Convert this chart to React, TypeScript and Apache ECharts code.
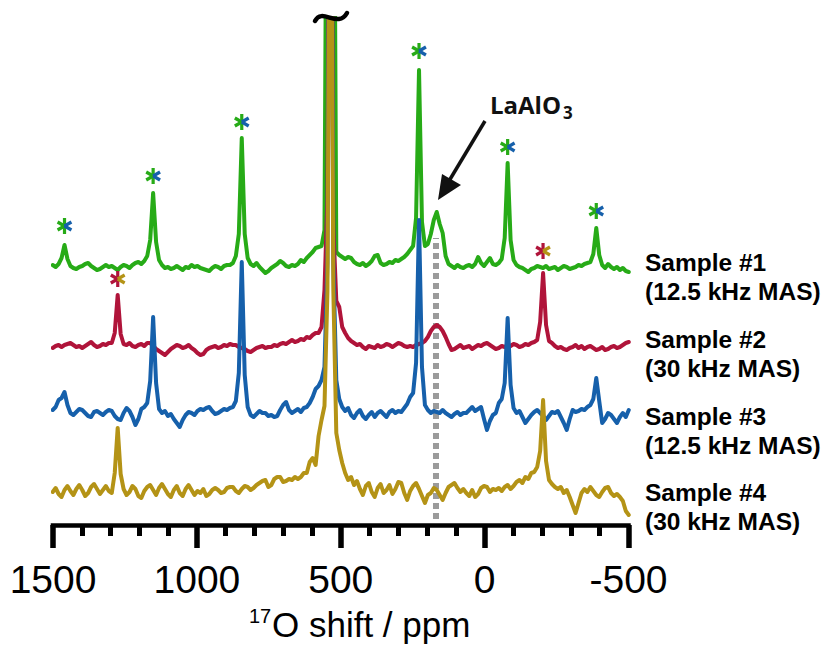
import React, { useEffect, useRef } from "react";
import * as echarts from "echarts";

// ---- sampling grid (ppm), centred on the centre band, 30 points per 12.5 kHz sideband spacing
const CENTER_PPM = 536;
const CENTER_INDEX = 94;
const SIDEBAND_SPACING = 308;
const N_POINTS = 196;
const PPM: number[] = Array.from({ length: N_POINTS }, (_, i) => CENTER_PPM + ((CENTER_INDEX - i) * SIDEBAND_SPACING) / 30);

// ---- x axis
const X_MIN = -500;
const X_MAX = 1500;
const X_INTERVAL = 500;

// ---- intensities relative to each trace's baseline
const SAMPLE1 = [
  3, 1, 4, 10, 23, 9, 2, 0, -1, 1,
  2, 4, 5, 2, 0, -2, -1, 1, 3, 1,
  2, 0, -2, 1, 3, 2, 0, 3, 5, 6,
  4, 7, 12, 28, 75, 26, 8, 3, 0, 1,
  -1, 0, 2, 0, -2, 1, 0, 3, 1, 2,
  0, -1, -2, -3, 0, 2, 1, -1, 2, 3,
  3, 5, 12, 34, 130, 34, 10, 4, 2, 5,
  1, -2, -5, -3, 0, 2, 4, 7, 5, 2,
  1, 3, 2, 4, 8, 6, 10, 13, 16, 20,
  21, 22, 38, 600, 800, 600, 16, 13, 11, 9,
  11, 10, 6, 4, 3, 5, 2, 4, 7, 12,
  13, 5, 3, 4, 6, 5, 8, 7, 9, 11,
  14, 18, 22, 50, 198, 46, 22, 24, 34, 48,
  56, 44, 35, 12, 4, 2, 0, 3, 1, 0,
  2, 3, 1, 4, 11, 5, 2, 6, 10, 4,
  3, 5, 9, 30, 105, 28, 8, 3, 1, 0,
  -2, -4, -1, 0, 2, 1, 0, 2, -1, 0,
  1, -2, 0, 2, 1, -1, 0, 1, 3, 2,
  4, 5, 6, 14, 40, 13, 3, 0, 4, 1,
  -1, 1, -2, 0, -3, -4,
];
const SAMPLE2 = [
  -1, 1, 2, 0, 2, 3, 4, 2, 0, 1,
  -1, 1, 3, 5, 2, 0, 1, 3, 2, 4,
  4, 14, 52, 13, 3, 2, 4, 1, 0, 2,
  3, 1, 4, 4, 1, -2, -4, -6, -8, -5,
  -2, 0, 2, 1, -1, 0, 2, -1, -3, -6,
  -8, -7, -3, -1, 0, 1, -1, 0, 2, 1,
  3, 2, 2, 0, -1, -2, -4, -5, -3, -1,
  0, 1, -1, 0, 0, 2, 1, 3, 4, 3,
  5, 7, 5, 6, 8, 7, 10, 9, 12, 14,
  14, 20, 57, 150, 800, 120, 46, 40, 20, 14,
  9, 6, 4, 2, 3, 0, -2, 1, 0, -1,
  2, 0, 1, 3, 2, 0, 2, 4, 3, 1,
  0, 1, 0, 2, 3, 4, 6, 10, 16, 20,
  22, 20, 16, 10, 3, -3, -2, 0, 2, -1,
  0, 1, -2, 0, 2, 1, 3, 4, 2, 0,
  -2, -1, 1, 0, 2, 1, 3, 2, 0, 1,
  3, 2, 4, 5, 7, 25, 74, 22, 6, 4,
  1, -1, 0, -2, -3, -1, 0, 2, -1, 1,
  -2, 0, 1, -1, -3, -2, 0, -3, -2, 0,
  1, -1, 0, 2, 4, 5,
];
const SAMPLE3 = [
  3, 6, 13, 15, 21, 8, 0, -2, 1, 4,
  3, 0, -3, -4, 1, 2, 0, -2, 1, 3,
  2, -3, -6, -7, 0, 5, 2, -4, -12, -6,
  4, 6, 10, 32, 96, 30, 4, 0, 2, -3,
  -1, -6, -10, -14, -7, -2, 1, 0, -2, 2,
  4, 3, 5, 6, 2, -1, 0, 2, 4, 3,
  5, 6, 12, 40, 151, 38, 6, -2, -4, -1,
  2, 0, 0, -3, -2, -4, -3, 3, 8, 11,
  3, 0, 2, 4, 1, 5, 6, 10, 16, 24,
  27, 33, 46, 150, 800, 150, 33, 14, 6, 2,
  5, -2, -5, 0, 3, -3, -6, -2, 1, -4,
  0, 2, -1, -4, 1, 3, 0, 2, 1, 5,
  9, 16, 20, 50, 193, 46, 8, 3, 0, 2,
  1, 0, 3, 0, -2, -4, -1, 1, -2, 0,
  0, 3, 6, 2, 4, 6, -6, -17, -8, -2,
  0, 10, 14, 30, 95, 28, 5, 0, 2, -4,
  -10, -6, -2, 1, 3, 0, -3, -7, -3, 1,
  0, 2, -4, -10, -17, -6, 3, 1, 2, 4,
  3, 6, 8, 14, 35, 12, -10, -6, 0, -2,
  -6, -10, -4, 0, -4, 3,
];
const SAMPLE4 = [
  -1, 3, -3, -6, 1, 5, 0, -4, 2, 6,
  1, -5, -2, 4, 7, 2, -3, 1, 5, 0,
  -2, 18, 63, 17, 2, -4, -1, 5, 2, -5,
  -7, 0, 4, 6, 1, -4, 3, 7, 2, -3,
  -6, 1, 5, -2, -5, 2, 6, 1, -4, 0,
  -2, 2, -5, -3, 1, 3, 1, -2, -1, 3,
  4, 4, 0, -2, 2, 5, 4, 1, 3, 6,
  8, 10, 11, 4, 6, 12, 14, 14, 9, 10,
  12, 11, 14, 12, 14, 18, 18, 29, 33, 26,
  55, 71, 85, 200, 800, 200, 58, 41, 28, 18,
  11, 14, 6, 10, 2, -4, 5, 8, -1, -6,
  3, 7, -2, 1, 6, -3, 2, 9, 8, -2,
  -9, 0, 5, 8, 2, -5, -12, -4, -2, 3,
  1, -4, -9, -2, 4, 6, 8, 3, -1, 2,
  -2, -5, 1, -6, -3, 3, 5, 4, -1, 2,
  1, 3, 0, 4, 6, 2, 5, 9, 11, 8,
  14, 12, 18, 19, 24, 40, 91, 30, 11, 7,
  4, 2, 4, -2, 1, -6, -14, -22, -12, -2,
  2, -1, 4, 0, -4, -6, -1, 3, 4, -2,
  -5, -3, -6, -10, -20, -24,
];

const SAMPLE_NAMES = ["Sample #1", "Sample #2", "Sample #3", "Sample #4"];
const SAMPLE_RATES = ["(12.5 kHz MAS)", "(30 kHz MAS)", "(12.5 kHz MAS)", "(30 kHz MAS)"];

// spinning-sideband asterisks (ppm, height on the stacked scale)
const STAR_12K_PPM = [1460, 1152, 844, 228, -80, -388];
const STAR_12K_Y = [299, 349, 403, 474, 378, 314];
const STAR_30K_PPM = [1275, -203];
const STAR_30K_Y = [246, 274];

// LaAlO3 guide
const LAALO3_PPM = 169;
const LAALO3_TOP = 287;
const LAALO3_BOTTOM = 6;

// ---- styles / layout
const GREEN = "#27ab17";
const RED = "#b0143a";
const BLUE = "#1660ab";
const GOLD = "#b49316";
const OFFSETS = [257, 178, 112, 34];
const COLORS = [GREEN, RED, BLUE, GOLD];
const VALUES = [SAMPLE1, SAMPLE2, SAMPLE3, SAMPLE4];
const Z_ORDER = [3, 4, 5, 6];
const LABEL_Y = [
  [262, 291],
  [339, 368],
  [416, 445],
  [492, 521],
];
const SANS = "Liberation Sans";

function asteriskRenderer(left: string, right: string) {
  return (params: any, api: any) => {
    const p = api.coord([api.value(0), api.value(1)]);
    const r = 8;
    const children: any[] = [];
    const add = (deg: number, color: string) => {
      const a = (deg * Math.PI) / 180;
      children.push({
        type: "line",
        shape: { x1: p[0], y1: p[1], x2: p[0] + r * Math.cos(a), y2: p[1] - r * Math.sin(a) },
        style: { stroke: color, lineWidth: 3.2 },
      });
    };
    add(90, left);
    add(270, left);
    add(150, left);
    add(210, left);
    add(30, right);
    add(-30, right);
    return { type: "group", children };
  };
}

function buildOption() {
  const lineSeries = VALUES.map((vals, k) => ({
    type: "line",
    name: SAMPLE_NAMES[k],
    data: vals.map((v, i) => [PPM[i], v + OFFSETS[k]]),
    symbol: "none",
    showSymbol: false,
    clip: true,
    z: Z_ORDER[k],
    lineStyle: { color: COLORS[k], width: 4, join: "round", cap: "round" },
    itemStyle: { color: COLORS[k] },
    silent: true,
  }));

  const guide = {
    type: "line",
    data: [
      [LAALO3_PPM, LAALO3_BOTTOM],
      [LAALO3_PPM, LAALO3_TOP],
    ],
    symbol: "none",
    z: 2,
    silent: true,
    lineStyle: { color: "#9b9b9b", width: 6, type: [6, 4], cap: "butt" },
  };

  const stars12 = {
    type: "custom",
    renderItem: asteriskRenderer(GREEN, BLUE),
    data: STAR_12K_PPM.map((p, i) => [p, STAR_12K_Y[i]]),
    encode: { x: 0, y: 1 },
    z: 10,
    silent: true,
  };
  const stars30 = {
    type: "custom",
    renderItem: asteriskRenderer(RED, GOLD),
    data: STAR_30K_PPM.map((p, i) => [p, STAR_30K_Y[i]]),
    encode: { x: 0, y: 1 },
    z: 10,
    silent: true,
  };

  const labelStyle = {
    fontSize: 24.5,
    lineHeight: 26,
    fontWeight: "bold",
    fontFamily: SANS,
    fill: "#000",
    align: "left",
    verticalAlign: "middle",
  };
  const labelTexts: any[] = [];
  SAMPLE_NAMES.forEach((name, k) => {
    labelTexts.push({ type: "text", x: 645, y: LABEL_Y[k][0], style: { ...labelStyle, text: name } });
    labelTexts.push({ type: "text", x: 645, y: LABEL_Y[k][1], style: { ...labelStyle, text: SAMPLE_RATES[k] } });
  });

  return {
    animation: false,
    backgroundColor: "#ffffff",
    grid: { left: 53, right: 197.5, top: 18, bottom: 120, containLabel: false },
    xAxis: {
      type: "value",
      min: X_MIN,
      max: X_MAX,
      interval: X_INTERVAL,
      inverse: true,
      splitLine: { show: false },
      axisLine: { show: true, lineStyle: { color: "#000", width: 4.5, cap: "square" } },
      axisTick: { show: true, length: 23, lineStyle: { color: "#000", width: 5.5 } },
      minorTick: { show: true, splitNumber: 5, length: 11, lineStyle: { color: "#000", width: 5 } },
      axisLabel: {
        show: true,
        margin: 35,
        fontSize: 39,
        fontFamily: SANS,
        color: "#000",
        formatter: (v: number) => String(v),
      },
    },
    yAxis: { type: "value", min: 0, max: 507, show: false },
    series: [guide, ...lineSeries, stars12, stars30],
    graphic: [
      {
        // axis-break tilde on top of the clipped centre band
        type: "bezierCurve",
        z: 20,
        shape: { x1: 315, y1: 21, cpx1: 322, cpy1: 7, cpx2: 338, cpy2: 29, x2: 347, y2: 13 },
        style: { stroke: "#000", lineWidth: 4.5, fill: "none", lineCap: "round" },
      },
      {
        type: "text",
        x: 490,
        y: 104,
        style: { text: "LaAlO", fontSize: 24, fontWeight: "bold", fontFamily: "Open Sans", fill: "#111", align: "left", verticalAlign: "middle" },
      },
      {
        type: "text",
        x: 563,
        y: 112,
        style: { text: "3", fontSize: 17, fontWeight: "bold", fontFamily: "Open Sans", fill: "#111", align: "left", verticalAlign: "middle" },
      },
      {
        type: "line",
        shape: { x1: 485, y1: 121, x2: 449, y2: 181 },
        style: { stroke: "#111", lineWidth: 3.5 },
      },
      {
        type: "polygon",
        shape: { points: [[438, 200], [461, 185], [442, 174]] },
        style: { fill: "#111" },
      },
      {
        type: "text",
        x: 249,
        y: 616,
        style: { text: "17", fontSize: 20, lineHeight: 20, fontFamily: SANS, fill: "#000", align: "left", verticalAlign: "middle" },
      },
      {
        type: "text",
        x: 272,
        y: 624,
        style: { text: "O shift / ppm", fontSize: 35, lineHeight: 34, fontFamily: SANS, fill: "#000", align: "left", verticalAlign: "middle" },
      },
      ...labelTexts,
    ],
  };
}

export default function App() {
  const ref = useRef<HTMLDivElement>(null);
  useEffect(() => {
    if (!ref.current) return;
    const chart = echarts.init(ref.current, undefined, { renderer: "svg" });
    chart.setOption(buildOption() as any);
    return () => chart.dispose();
  }, []);
  return (
    <div
      ref={ref}
      style={{ position: "fixed", left: 0, top: 0, width: 826, height: 645, background: "#ffffff" }}
    />
  );
}
